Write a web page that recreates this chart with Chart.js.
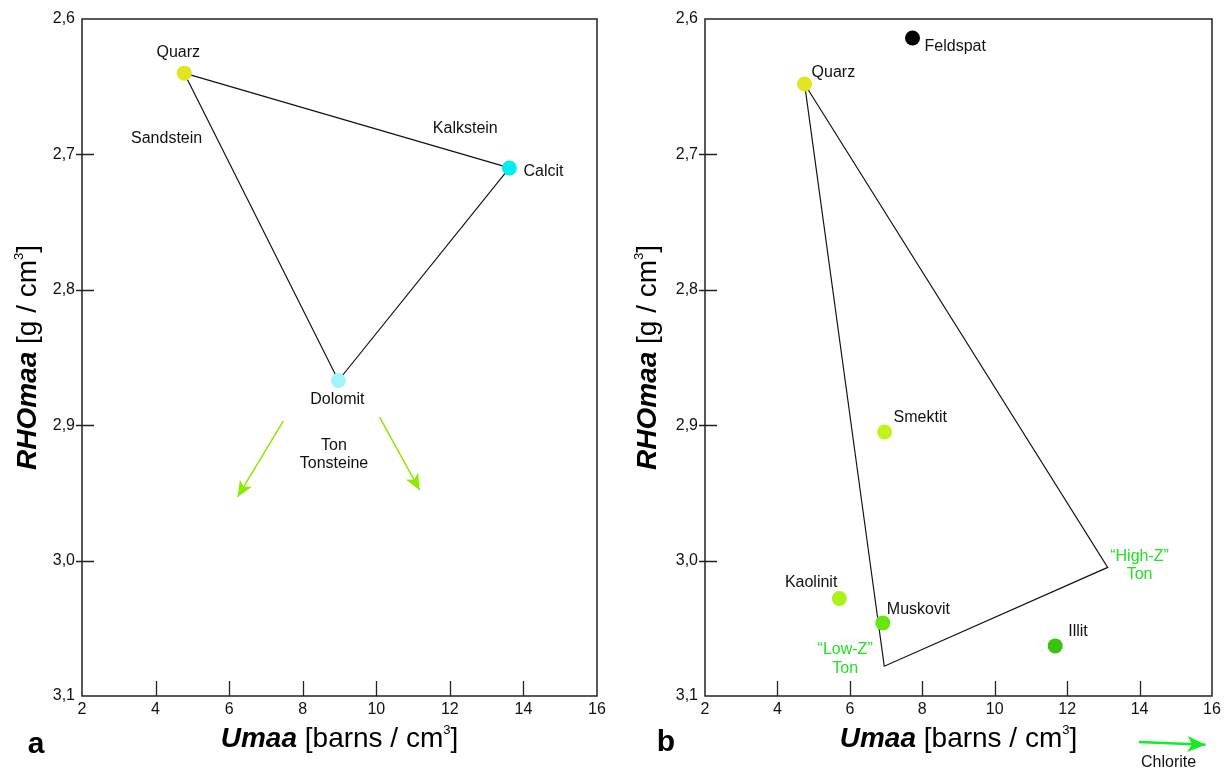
<!DOCTYPE html>
<html><head><meta charset="utf-8">
<script src="https://cdn.jsdelivr.net/npm/chart.js@4"></script>
<style>
html,body{margin:0;padding:0;background:#fff;}
#wrap{position:relative;width:1230px;height:770px;overflow:hidden;}
canvas{position:absolute;top:0;}
</style></head>
<body>
<div id="wrap">
<canvas id="cA" width="615" height="770" style="left:0"></canvas>
<canvas id="cB" width="615" height="770" style="left:615px"></canvas>
</div>
<script>
// ---------- data ----------
const xTickValues = [2, 4, 6, 8, 10, 12, 14, 16];
const xTickLabels = ['2', '4', '6', '8', '10', '12', '14', '16'];
const yTickValues = [2.6, 2.7, 2.8, 2.9, 3.0, 3.1];
const yTickLabels = ['2,6', '2,7', '2,8', '2,9', '3,0', '3,1'];

// panel a: matrix minerals
const mineralsA = ['Quarz', 'Calcit', 'Dolomit'];
const umaaA = [4.78, 13.62, 8.97];
const rhoA = [2.640, 2.710, 2.867];

// panel a: shale trend arrows (start, end)
const tonArrow1Umaa = [7.47, 6.23];
const tonArrow1Rho = [2.897, 2.953];
const tonArrow2Umaa = [10.09, 11.18];
const tonArrow2Rho = [2.894, 2.948];

// panel a: region labels
const regionTextA = ['Sandstein', 'Kalkstein', 'Ton', 'Tonsteine'];
const regionUmaaA = [4.30, 12.42, 8.85, 8.85];
const regionRhoA = [2.688, 2.681, 2.915, 2.928];

// panel b: minerals
const mineralsB = ['Feldspat', 'Quarz', 'Smektit', 'Kaolinit', 'Muskovit', 'Illit'];
const umaaB = [7.73, 4.75, 6.96, 5.71, 6.91, 11.67];
const rhoB = [2.614, 2.648, 2.905, 3.028, 3.046, 3.063];

// panel b: clay field (Quarz – "Low-Z" Ton – "High-Z" Ton – Quarz)
const fieldUmaaB = [4.75, 6.95, 13.12, 4.75];
const fieldRhoB = [2.648, 3.078, 3.005, 2.648];

// panel b: chlorite arrow
const chloriteUmaa = [13.98, 15.82];
const chloriteRho = [3.134, 3.136];

// panel b: region labels
const regionTextB = ['\u201CHigh-Z\u201D', 'Ton', '\u201CLow-Z\u201D', 'Ton', 'Chlorite'];
const regionUmaaB = [14.0, 14.0, 5.87, 5.87, 14.8];
const regionRhoB = [2.997, 3.010, 3.066, 3.080, 3.149];

// ---------- styling ----------
const F = '"Liberation Sans", Arial, Helvetica, sans-serif';
const colorsA = ['#e1e41f', '#00eef0', '#a2f3fb'];
const colorsB = ['#000000', '#e1e41f', '#bcf41c', '#a8f218', '#66e60e', '#38c40c'];
const labelPosA = [
  {dx: -6, dy: -21, align: 'center'},
  {dx: 14, dy: 4, align: 'left'},
  {dx: -1, dy: 19, align: 'center'}
];
const labelPosB = [
  {dx: 12, dy: 9, align: 'left'},
  {dx: 7, dy: -11, align: 'left'},
  {dx: 9, dy: -14, align: 'left'},
  {dx: -2, dy: -16, align: 'right'},
  {dx: 4, dy: -13, align: 'left'},
  {dx: 13, dy: -14, align: 'left'}
];
const regionColorsA = ['#111', '#111', '#111', '#111'];
const regionColorsB = ['#22e022', '#22e022', '#22e022', '#22e022', '#111'];

const zip = (xs, ys) => xs.map((v, i) => ({x: v, y: ys[i]}));

function drawRich(ctx, segs, x, y) {
  let total = 0;
  segs.forEach(s => { ctx.font = s.f; s.w = ctx.measureText(s.t).width; total += s.w; });
  let cx = x - total / 2;
  ctx.textAlign = 'left';
  ctx.textBaseline = 'alphabetic';
  segs.forEach(s => { ctx.font = s.f; ctx.fillText(s.t, cx, y + (s.dy || 0)); cx += s.w; });
}

function drawHead(ctx, p0, p1, len, w, color) {
  const ang = Math.atan2(p1.y - p0.y, p1.x - p0.x);
  ctx.save();
  ctx.translate(p1.x, p1.y);
  ctx.rotate(ang);
  ctx.beginPath();
  ctx.moveTo(0, 0);
  ctx.lineTo(-len, -w / 2);
  ctx.lineTo(-len * 0.75, 0);
  ctx.lineTo(-len, w / 2);
  ctx.closePath();
  ctx.fillStyle = color;
  ctx.fill();
  ctx.restore();
}

const decor = {
  id: 'decor',
  afterDatasetsDraw(chart, args, o) {
    const {ctx, chartArea: a, scales: {x, y}} = chart;
    ctx.save();
    // frame
    ctx.strokeStyle = '#222';
    ctx.lineWidth = 1.5;
    ctx.strokeRect(a.left, a.top, a.right - a.left, a.bottom - a.top);
    // tick marks
    ctx.lineWidth = 1.3;
    ctx.beginPath();
    xTickValues.slice(1, -1).forEach(v => {
      const px = Math.round(x.getPixelForValue(v)) + 0.5;
      ctx.moveTo(px, a.bottom); ctx.lineTo(px, a.bottom - 15);
    });
    yTickValues.slice(1, -1).forEach(v => {
      const py = Math.round(y.getPixelForValue(v)) + 0.5;
      ctx.moveTo(a.left - 6, py); ctx.lineTo(a.left + 12, py);
    });
    ctx.stroke();
    // arrow heads
    chart.data.datasets.forEach((ds, i) => {
      if (!ds.arrowHead) return;
      const pts = chart.getDatasetMeta(i).data;
      drawHead(ctx, pts[pts.length - 2], pts[pts.length - 1], ds.arrowHead.len, ds.arrowHead.w, ds.borderColor);
    });
    // point labels
    const pm = chart.getDatasetMeta(0).data;
    ctx.font = '16px ' + F;
    ctx.textBaseline = 'middle';
    ctx.fillStyle = '#111';
    o.names.forEach((n, i) => {
      const p = o.pos[i];
      ctx.textAlign = p.align;
      ctx.fillText(n, pm[i].x + p.dx, pm[i].y + p.dy);
    });
    // region labels
    ctx.textAlign = 'center';
    o.regionText.forEach((t, i) => {
      ctx.fillStyle = o.regionColors[i];
      ctx.fillText(t, x.getPixelForValue(o.regionX[i]), y.getPixelForValue(o.regionY[i]));
    });
    ctx.restore();
  },
  afterDraw(chart, args, o) {
    const {ctx, chartArea: a} = chart;
    ctx.save();
    ctx.fillStyle = '#000';
    const cx = (a.left + a.right) / 2;
    drawRich(ctx, [
      {t: 'Umaa', f: 'italic bold 28px ' + F},
      {t: ' [barns / cm', f: '28px ' + F},
      {t: '3', f: '13px ' + F, dy: -13},
      {t: ']', f: '28px ' + F}
    ], cx, 747);
    ctx.save();
    ctx.translate(o.yTitleX, (a.top + a.bottom) / 2);
    ctx.rotate(-Math.PI / 2);
    drawRich(ctx, [
      {t: 'RHOmaa', f: 'italic bold 28px ' + F},
      {t: ' [g / cm', f: '28px ' + F},
      {t: '3', f: '13px ' + F, dy: -13},
      {t: ']', f: '28px ' + F}
    ], 0, 0);
    ctx.restore();
    ctx.font = 'bold 30px ' + F;
    ctx.textAlign = 'center';
    ctx.textBaseline = 'middle';
    ctx.fillText(o.panel, o.panelX, o.panelY);
    ctx.restore();
  }
};

function scales(yWidth) {
  const tickFont = {family: F, size: 16};
  return {
    x: {
      type: 'linear', min: 2, max: 16,
      grid: {display: false, drawTicks: false}, border: {display: false},
      afterBuildTicks: s => { s.ticks = xTickValues.map(v => ({value: v})); },
      afterFit: s => { s.height = 74; },
      ticks: {autoSkip: false, maxRotation: 0, padding: 4, color: '#111', font: tickFont,
        callback: v => xTickLabels[xTickValues.indexOf(v)]}
    },
    y: {
      type: 'linear', min: 2.6, max: 3.1, reverse: true,
      grid: {display: false, drawTicks: false}, border: {display: false},
      afterBuildTicks: s => { s.ticks = yTickValues.map(v => ({value: v})); },
      afterFit: s => { s.width = yWidth; },
      ticks: {autoSkip: false, padding: 7, color: '#111', font: tickFont,
        callback: v => yTickLabels[yTickValues.findIndex(t => Math.abs(t - v) < 1e-6)]}
    }
  };
}

const common = {
  responsive: false, animation: false, events: [],
  plugins: {legend: {display: false}, tooltip: {enabled: false}}
};

new Chart(document.getElementById('cA'), {
  type: 'scatter',
  data: {
    datasets: [
      {data: zip(umaaA, rhoA), backgroundColor: colorsA, borderWidth: 0, pointRadius: 7.5, showLine: false},
      {data: zip([umaaA[0], umaaA[1], umaaA[2], umaaA[0]], [rhoA[0], rhoA[1], rhoA[2], rhoA[0]]),
        showLine: true, borderColor: '#111', borderWidth: 1.2, pointRadius: 0, fill: false, tension: 0},
      {data: zip(tonArrow1Umaa, tonArrow1Rho), showLine: true, borderColor: '#8ee800', borderWidth: 1.5,
        pointRadius: 0, arrowHead: {len: 16, w: 14}},
      {data: zip(tonArrow2Umaa, tonArrow2Rho), showLine: true, borderColor: '#8ee800', borderWidth: 1.5,
        pointRadius: 0, arrowHead: {len: 16, w: 14}}
    ]
  },
  options: Object.assign({}, common, {
    layout: {padding: {top: 19, right: 18, left: 0, bottom: 0}},
    scales: scales(82),
    plugins: Object.assign({}, common.plugins, {
      decor: {names: mineralsA, pos: labelPosA, regionText: regionTextA, regionX: regionUmaaA,
        regionY: regionRhoA, regionColors: regionColorsA, yTitleX: 36, panel: 'a', panelX: 36, panelY: 745}
    })
  }),
  plugins: [decor]
});

new Chart(document.getElementById('cB'), {
  type: 'scatter',
  data: {
    datasets: [
      {data: zip(umaaB, rhoB), backgroundColor: colorsB, borderWidth: 0, pointRadius: 7.5, showLine: false},
      {data: zip(fieldUmaaB, fieldRhoB), showLine: true, borderColor: '#111', borderWidth: 1.2,
        pointRadius: 0, fill: false, tension: 0},
      {data: zip(chloriteUmaa, chloriteRho), showLine: true, borderColor: '#11ee22', borderWidth: 2.5,
        pointRadius: 0, clip: false, arrowHead: {len: 18, w: 16}}
    ]
  },
  options: Object.assign({}, common, {
    layout: {padding: {top: 19, right: 18, left: 0, bottom: 0}},
    scales: scales(90),
    plugins: Object.assign({}, common.plugins, {
      decor: {names: mineralsB, pos: labelPosB, regionText: regionTextB, regionX: regionUmaaB,
        regionY: regionRhoB, regionColors: regionColorsB, yTitleX: 41, panel: 'b', panelX: 51, panelY: 743}
    })
  }),
  plugins: [decor]
});
</script>
</body></html>
